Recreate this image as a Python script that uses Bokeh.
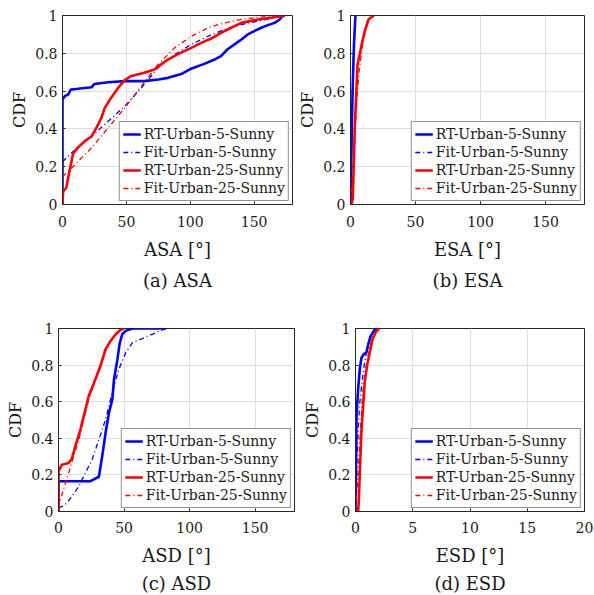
from bokeh.plotting import figure
from bokeh.layouts import column, row
from bokeh.models import FixedTicker, CustomJSTickFormatter, Range1d
from bokeh.embed import file_html
from bokeh.resources import INLINE

FONT = "DejaVu Serif"
TXT = "#1a1a1a"
AX = "#262626"

names = ["RT-Urban-5-Sunny", "Fit-Urban-5-Sunny", "RT-Urban-25-Sunny", "Fit-Urban-25-Sunny"]
y_ticks = [0, 0.2, 0.4, 0.6, 0.8, 1]

# ---- (a) ASA ----
asa_rt5_x = [0, 0, 1.8, 4.4, 6.5, 12, 22.7, 25, 35.7, 48.7, 64, 75, 82.5, 93, 101, 111, 119, 124, 129, 134.6, 140, 145, 150, 155.5, 160.7, 166, 170, 172, 174]
asa_rt5_y = [0, 0.556, 0.573, 0.582, 0.608, 0.612, 0.62, 0.638, 0.647, 0.653, 0.653, 0.661, 0.67, 0.69, 0.72, 0.744, 0.767, 0.785, 0.82, 0.847, 0.873, 0.9, 0.917, 0.935, 0.949, 0.961, 0.979, 0.996, 1]
asa_fit5_x = [0, 9.6, 22.7, 35.7, 48.7, 61.7, 74.7, 87.8, 100.8, 113.8, 126.8, 139.8, 152.9, 166, 173.7]
asa_fit5_y = [0.226, 0.29, 0.36, 0.44, 0.52, 0.617, 0.723, 0.794, 0.847, 0.89, 0.926, 0.952, 0.97, 0.988, 1]
asa_rt25_x = [0, 0.5, 3, 4.4, 6.5, 8.3, 12, 17.4, 22.7, 26.5, 30.5, 33, 38, 43.5, 48.7, 54, 64, 72, 77, 82.5, 90, 100.8, 108.6, 116.4, 124, 132, 140, 153, 166, 173.7]
asa_rt25_y = [0, 0.07, 0.088, 0.14, 0.21, 0.27, 0.3, 0.335, 0.36, 0.405, 0.46, 0.51, 0.564, 0.617, 0.658, 0.68, 0.697, 0.714, 0.74, 0.767, 0.794, 0.829, 0.855, 0.878, 0.908, 0.935, 0.961, 0.979, 0.991, 1]
asa_fit25_x = [0, 9.6, 22.7, 35.7, 48.7, 61.7, 74.7, 87.8, 100.8, 113.8, 126.8, 139.8, 152.9, 173.7]
asa_fit25_y = [0.146, 0.21, 0.3, 0.405, 0.511, 0.626, 0.74, 0.829, 0.89, 0.935, 0.961, 0.979, 0.991, 1]

# ---- (b) ESA ----
esa_rt5_x = [0, 0.4, 1.0, 1.8, 2.7, 3.8]
esa_rt5_y = [0, 0.15, 0.4, 0.65, 0.85, 1]
esa_fit5_x = [0, 0.3, 0.9, 1.7, 2.6, 3.6]
esa_fit5_y = [0, 0.15, 0.4, 0.65, 0.85, 1]
esa_rt25_x = [0.8, 1.8, 2.6, 3.3, 4.4, 5.4, 6.9, 9, 11.5, 14, 18]
esa_rt25_y = [0, 0.035, 0.23, 0.41, 0.58, 0.74, 0.79, 0.86, 0.93, 0.98, 1]
esa_fit25_x = [0, 0.8, 2.6, 3.8, 5.1, 6.9, 9, 11, 12.8, 16.7]
esa_fit25_y = [0, 0.1, 0.23, 0.41, 0.58, 0.72, 0.83, 0.91, 0.97, 1]

# ---- (c) ASD ----
asd_rt5_x = [0, 0, 24, 30.8, 33.3, 35.9, 38.5, 41, 42.3, 44.9, 46.7, 48.7, 51.3, 56.4, 82]
asd_rt5_y = [0, 0.165, 0.165, 0.19, 0.30, 0.43, 0.54, 0.61, 0.72, 0.83, 0.92, 0.97, 0.987, 1, 1]
asd_fit5_x = [0, 5, 10.3, 15.4, 20.5, 25.6, 30.8, 35.9, 41, 46, 51.3, 56.4, 64, 74.4, 82]
asd_fit5_y = [0.018, 0.037, 0.082, 0.137, 0.21, 0.283, 0.393, 0.503, 0.649, 0.777, 0.868, 0.923, 0.945, 0.978, 1]
asd_rt25_x = [0, 0, 2.6, 7.7, 10.3, 12.8, 16.7, 19.2, 23, 26.9, 32, 35.9, 39.7, 43.6, 47.4, 50]
asd_rt25_y = [0, 0.219, 0.256, 0.265, 0.29, 0.356, 0.448, 0.52, 0.63, 0.70, 0.795, 0.887, 0.932, 0.969, 0.993, 1]
asd_fit25_x = [0, 1.3, 3.8, 7.7, 11.5, 15.4, 19.2, 23, 28.2, 33.3, 38.5, 43.6, 48.7]
asd_fit25_y = [0.02, 0.064, 0.12, 0.21, 0.30, 0.39, 0.50, 0.61, 0.72, 0.83, 0.92, 0.97, 0.996]

# ---- (d) ESD ----
esd_rt5_x = [0, 0.03, 0.09, 0.23, 0.38, 0.52, 0.73, 0.96, 1.1, 1.3, 1.54, 1.83]
esd_rt5_y = [0, 0.13, 0.53, 0.67, 0.78, 0.84, 0.86, 0.87, 0.91, 0.955, 0.98, 1]
esd_fit5_x = [0, 0.09, 0.23, 0.38, 0.61, 0.81, 1.1, 1.4, 1.69]
esd_fit5_y = [0, 0.22, 0.44, 0.60, 0.73, 0.82, 0.91, 0.97, 1]
esd_rt25_x = [0.23, 0.29, 0.38, 0.52, 0.67, 0.81, 1.02, 1.25, 1.48, 1.77, 2.06]
esd_rt25_y = [0, 0.06, 0.22, 0.44, 0.58, 0.71, 0.80, 0.87, 0.94, 0.98, 1]
esd_fit25_x = [0, 0.15, 0.32, 0.47, 0.61, 0.81, 1.1, 1.4, 1.69, 1.98]
esd_fit25_y = [0, 0.13, 0.31, 0.49, 0.64, 0.75, 0.855, 0.93, 0.97, 1]

ang_ticks = [0, 50, 100, 150]
esd_ticks = [0, 5, 10, 15, 20]

styles = [("#0000ff", 2.6, "solid"), ("#0000ff", 1.3, "5 3 1 3"),
          ("#ff0000", 2.6, "solid"), ("#ff0000", 1.3, "5 3 1 3")]


def panel(series, xmax, xticks, xlabel, caption, width, height, bl, br, bt, bb, toff, tstand, xstand):
    p = figure(width=width, height=height, x_range=Range1d(0, xmax), y_range=Range1d(0, 1),
               output_backend="svg", toolbar_location=None,
               min_border_left=bl, min_border_right=br, min_border_top=bt, min_border_bottom=bb,
               title=caption, title_location="below")
    p.title.align = "center"
    p.title.offset = toff
    p.title.text_font = FONT
    p.title.text_font_size = "18px"
    p.title.text_font_style = "normal"
    p.title.text_color = TXT
    p.title.standoff = tstand
    for (xs, ys), nm, (c, w, d) in zip(series, names, styles):
        p.line(xs, ys, line_color=c, line_width=w, line_dash=d, legend_label=nm)
    p.xaxis.ticker = FixedTicker(ticks=xticks)
    p.yaxis.ticker = FixedTicker(ticks=y_ticks)
    p.yaxis.formatter = CustomJSTickFormatter(code="return tick.toFixed(1).replace(/\\.0$/, '');")
    p.xaxis.axis_label = xlabel
    p.yaxis.axis_label = "CDF"
    for ax in (p.xaxis[0], p.yaxis[0]):
        ax.axis_line_color = AX
        ax.major_tick_line_color = AX
        ax.major_tick_in = 3
        ax.major_tick_out = 0
        ax.minor_tick_line_color = None
        ax.major_label_text_font = FONT
        ax.major_label_text_font_size = "14px"
        ax.major_label_text_color = TXT
        ax.axis_label_text_font = FONT
        ax.axis_label_text_font_style = "normal"
        ax.axis_label_text_color = TXT
    p.xaxis.axis_label_text_font_size = "18px"
    p.yaxis.axis_label_text_font_size = "16px"
    p.xaxis.major_label_standoff = xstand
    p.yaxis.major_label_standoff = 5
    p.xaxis.axis_label_standoff = 9
    p.yaxis.axis_label_standoff = 3
    p.grid.grid_line_color = "#dedede"
    p.grid.grid_line_width = 1
    p.outline_line_color = AX
    p.outline_line_width = 1
    p.outline_line_alpha = 1
    lg = p.legend[0]
    lg.location = "bottom_right"
    lg.margin = 3
    lg.padding = 3
    lg.spacing = 0
    lg.label_height = 18
    lg.glyph_height = 18
    lg.glyph_width = 18
    lg.label_standoff = 3
    lg.label_text_font = FONT
    lg.label_text_font_size = "14px"
    lg.label_text_color = TXT
    lg.border_line_color = AX
    lg.border_line_width = 1
    lg.background_fill_alpha = 1
    return p


pa = panel([(asa_rt5_x, asa_rt5_y), (asa_fit5_x, asa_fit5_y), (asa_rt25_x, asa_rt25_y), (asa_fit25_x, asa_fit25_y)],
           180, ang_ticks, "ASA [°]", "(a) ASA", 294, 308, 62, 2, 15, 104, -23, 11, 11)
pb = panel([(esa_rt5_x, esa_rt5_y), (esa_fit5_x, esa_fit5_y), (esa_rt25_x, esa_rt25_y), (esa_fit25_x, esa_fit25_y)],
           180, ang_ticks, "ESA [°]", "(b) ESA", 300, 308, 56, 10, 15, 104, -21, 11, 11)
pc = panel([(asd_rt5_x, asd_rt5_y), (asd_fit5_x, asd_fit5_y), (asd_rt25_x, asd_rt25_y), (asd_fit25_x, asd_fit25_y)],
           180, ang_ticks, "ASD [°]", "(c) ASD", 299, 287, 58, 5, 20, 84, -24, 4, 10)
pd_ = panel([(esd_rt5_x, esd_rt5_y), (esd_fit5_x, esd_fit5_y), (esd_rt25_x, esd_rt25_y), (esd_fit25_x, esd_fit25_y)],
            20, esd_ticks, "ESD [°]", "(d) ESD", 295, 287, 56, 10, 20, 84, -20, 4, 10)

layout = column(row(pa, pb), row(pc, pd_))
open("out.html", "w").write(file_html(layout, INLINE))
